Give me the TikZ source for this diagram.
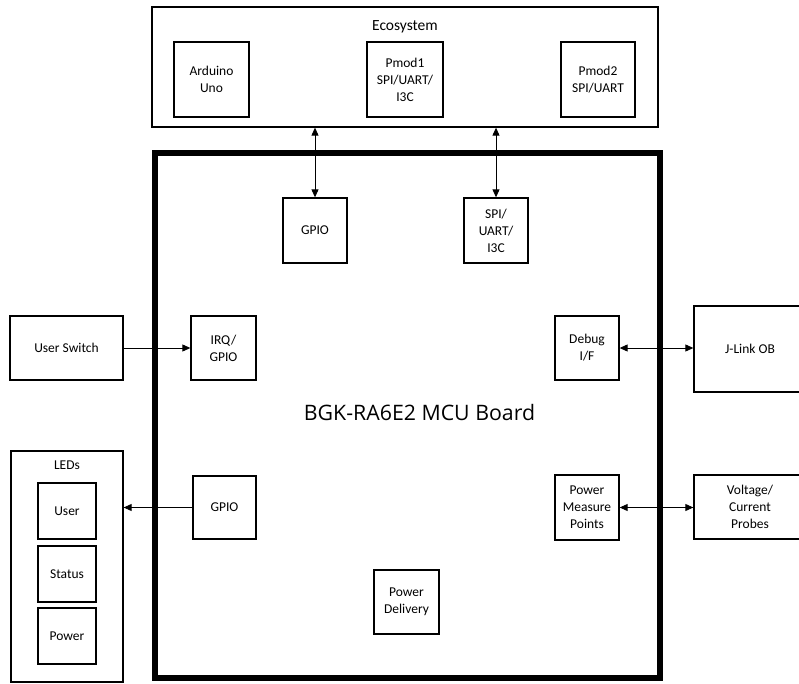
\documentclass[tikz,border=0pt]{standalone}
\usepackage{fontspec}
\setmainfont{Carlito}
\newfontfamily\titlefont{Open Sans}
\usetikzlibrary{arrows.meta}
\begin{document}
\begin{tikzpicture}[x=1pt,y=-1pt,
  box/.style={draw, line width=1.3pt, inner sep=0pt, align=center,
    font=\fontsize{13.5}{17}\selectfont},
  lbl/.style={inner sep=0pt, align=center, font=\fontsize{13.5}{17}\selectfont},
  arr/.style={line width=0.9pt, -{Triangle[length=8pt,width=7pt]}},
  darr/.style={line width=0.9pt, {Triangle[length=8pt,width=7pt]}-{Triangle[length=8pt,width=7pt]}}]
\useasboundingbox (0,0) rectangle (799,684);
% Ecosystem
\node[box, minimum width=506pt, minimum height=120pt] (eco) at (405,67) {};
\node[lbl, font=\fontsize{15.5}{18}\selectfont] (ecot) at (405,27) {Ecosystem};
\node[box, minimum width=75pt, minimum height=75pt] (ard) at (211.5,79.5) {Arduino\\Uno};
\node[box, minimum width=76pt, minimum height=75pt] (pm1) at (405,79.5) {Pmod1\\SPI/UART/\\I3C};
\node[box, minimum width=74pt, minimum height=75pt] (pm2) at (598,79.5) {Pmod2\\SPI/UART};
% MCU board
\node[draw, line width=6pt, inner sep=0pt, minimum width=505pt, minimum height=525pt] (mcu) at (407.5,415.5) {};
\node[inner sep=0pt, font=\titlefont\fontsize{21.3}{24}\selectfont] (title) at (419.5,413) {BGK-RA6E2 MCU Board};
\node[box, minimum width=64pt, minimum height=65pt] (gpioT) at (315,230.5) {GPIO};
\node[box, minimum width=64pt, minimum height=65pt] (spi) at (496,230.5) {SPI/\\UART/\\I3C};
\node[box, minimum width=65pt, minimum height=64pt] (irq) at (223.5,348) {IRQ/\\GPIO};
\node[box, minimum width=64pt, minimum height=64pt] (dbg) at (587,348) {Debug\\I/F};
\node[box, minimum width=63pt, minimum height=63pt] (gpioL) at (224.5,507.5) {GPIO};
\node[box, minimum width=64pt, minimum height=65pt] (pmp) at (587,507.5) {Power\\Measure\\Points};
\node[box, minimum width=65pt, minimum height=64pt] (pd) at (406.5,602) {Power\\Delivery};
% outside
\node[box, minimum width=113pt, minimum height=64pt] (usw) at (66.5,348) {User Switch};
\node[box, minimum width=112pt, minimum height=86pt] (jlink) at (750,349) {J-Link OB};
\node[box, minimum width=112pt, minimum height=64pt] (probes) at (750,507) {Voltage/\\Current\\Probes};
\node[box, minimum width=112pt, minimum height=231pt] (leds) at (67,566.5) {};
\node[lbl] (ledst) at (67,465) {LEDs};
\node[box, minimum width=58pt, minimum height=56pt] (ledu) at (67,511) {User};
\node[box, minimum width=58pt, minimum height=56pt] (ledsS) at (67,574) {Status};
\node[box, minimum width=58pt, minimum height=56pt] (ledp) at (67,636) {Power};
% connectors
\draw[darr] (gpioT.north |- eco.south) -- (gpioT.north);
\draw[darr] (spi.north |- eco.south) -- (spi.north);
\draw[arr] (usw.east) -- (irq.west);
\draw[darr] (dbg.east) -- (dbg.east -| jlink.west);
\draw[arr] (gpioL.west) -- (gpioL.west -| leds.east);
\draw[darr] (pmp.east) -- (pmp.east -| probes.west);
\end{tikzpicture}
\end{document}
